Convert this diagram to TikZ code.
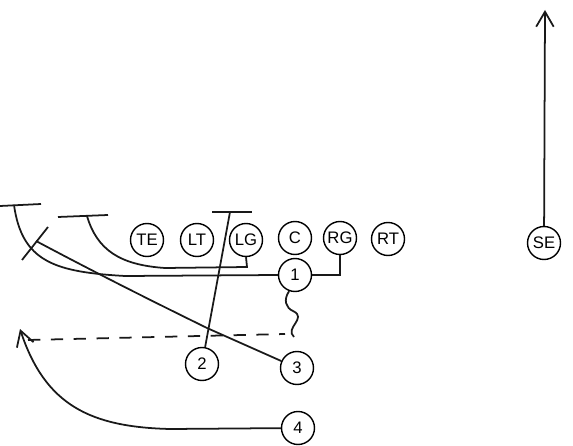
\documentclass[tikz,border=0pt]{standalone}
\usepackage{fontspec}
\setmainfont{Liberation Sans}
\usepackage{tikz}
\usetikzlibrary{arrows.meta, positioning, calc}
\tikzstyle{player} = [circle, minimum size=0.66cm, inner sep=0pt, text centered, draw=black, line width=0.8pt, font=\fontsize{9.5}{9.5}\selectfont]
\tikzstyle{route} = [line width=1pt, black!90]
\tikzstyle{block} = [route, -{Straight Barb[length=3mm, width=3.5mm]}]

\begin{document}
\begin{tikzpicture}[x=0.02cm, y=-0.02cm]
\useasboundingbox (0,0) rectangle (573,445);
\node (te) [player] at (147,240) {TE};
\node (lt) [player] at (197,240) {LT};
\node (lg) [player] at (246,240) {LG};
\node (c) [player] at (295,238) {C};
\node (rg) [player] at (340,238) {RG};
\node (rt) [player] at (388,239) {RT};
\node (se) [player] at (544,243) {SE};
\node (one) [player] at (295,275) {1};
\node (two) [player] at (202,364) {2};
\node (three) [player] at (297,368) {3};
\node (four) [player] at (298,428) {4};
\coordinate (barAl) at (0,206);
\coordinate (barAr) at (41,204);
\coordinate (barAs) at (14,205);
\coordinate (barBl) at (58,217);
\coordinate (barBr) at (108,215);
\coordinate (barBs) at (87,216);
\coordinate (barCl) at (212,212);
\coordinate (barCr) at (252,212);
\coordinate (barCs) at (230,212);
\coordinate (crossA) at (22,260);
\coordinate (crossB) at (48,227);
\coordinate (crossEnd) at (36,241);
\coordinate (dashL) at (28,340);
\coordinate (dashR) at (285,334);
\coordinate (waveEnd) at (294,337);
\coordinate (fourEnd) at (20,329);
\coordinate (seEnd) at (545,10);
\draw [route] (barAl) -- (barAr);
\draw [route] (barBl) -- (barBr);
\draw [route] (barCl) -- (barCr);
\draw [route] (crossA) -- (crossB);
\draw [route] (one.west) -- (125,276) .. controls (55,272) and (22,262) .. (barAs);
\draw [route] (lg.south) -- (247,267) -- (165,268) .. controls (120,265) and (97,250) .. (barBs);
\draw [route] (two) -- (barCs);
\draw [route] (three) -- (207,328) .. controls (150,300) and (100,275) .. (crossEnd);
\draw [route] (one.east) -| (rg.south);
\draw [route, dash pattern=on 7pt off 6pt] (dashL) -- (dashR);
\draw [route] (one.250) .. controls (283,300) and (286,308) .. (293,311) .. controls (308,318) and (284,328) .. (waveEnd);
\draw [block] (four) -- (170,429) .. controls (90,427) and (45,405) .. (fourEnd);
\draw [block] (se) -- (seEnd);
\end{tikzpicture}
\end{document}
